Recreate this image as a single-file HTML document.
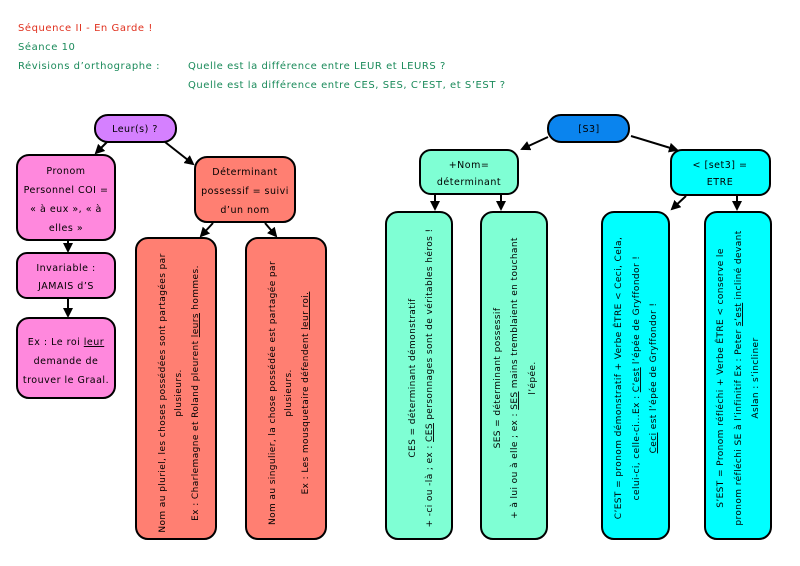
<!DOCTYPE html>
<html><head><meta charset="utf-8"><style>
html,body{margin:0;padding:0;background:#fff;width:800px;height:566px;overflow:hidden}
svg{display:block}
text{font-family:"DejaVu Sans","Liberation Sans",sans-serif}
</style></head><body>
<svg width="800" height="566" viewBox="0 0 800 566" xmlns="http://www.w3.org/2000/svg">
<defs><marker id="a" markerWidth="10" markerHeight="10" refX="8" refY="5" orient="auto" markerUnits="userSpaceOnUse"><path d="M0,0 L10,5 L0,10 z" fill="#000"/></marker></defs>
<g font-size="10" letter-spacing="0.55">
<text x="18" y="31" fill="#e0301e">Séquence II - En Garde !</text>
<text x="18" y="50" fill="#1a8a5a">Séance 10</text>
<text x="18" y="69" fill="#1a8a5a">Révisions d’orthographe :</text>
<text x="188" y="69" fill="#1a8a5a">Quelle est la différence entre LEUR et LEURS ?</text>
<text x="188" y="88" fill="#1a8a5a">Quelle est la différence entre CES, SES, C’EST, et S’EST ?</text>
</g>
<g stroke="#000" stroke-width="2">
<rect x="95" y="115" width="81" height="27" rx="13" fill="#d580ff"/>
<rect x="17" y="155" width="98" height="85" rx="12" fill="#ff88dd"/>
<rect x="17" y="253" width="98" height="45" rx="10" fill="#ff88dd"/>
<rect x="17" y="318" width="98" height="80" rx="12" fill="#ff88dd"/>
<rect x="195" y="157" width="100" height="65" rx="12" fill="#ff7f72"/>
<rect x="136" y="238" width="80" height="301" rx="12" fill="#ff7f72"/>
<rect x="246" y="238" width="80" height="301" rx="12" fill="#ff7f72"/>
<rect x="548" y="115" width="81" height="27" rx="13" fill="#0a84ee"/>
<rect x="420" y="150" width="98" height="44" rx="11" fill="#7fffd4"/>
<rect x="671" y="150" width="99" height="45" rx="11" fill="#00ffff"/>
<rect x="386" y="212" width="66" height="327" rx="12" fill="#7fffd4"/>
<rect x="481" y="212" width="66" height="327" rx="12" fill="#7fffd4"/>
<rect x="602" y="212" width="67" height="327" rx="12" fill="#00ffff"/>
<rect x="705" y="212" width="66" height="327" rx="12" fill="#00ffff"/>
</g>
<g stroke="#000" stroke-width="2" marker-end="url(#a)">
<line x1="107" y1="142" x2="96" y2="153"/>
<line x1="165" y1="142" x2="193" y2="164"/>
<line x1="68" y1="240" x2="68" y2="251"/>
<line x1="68" y1="298" x2="68" y2="316"/>
<line x1="213" y1="223" x2="201" y2="236"/>
<line x1="265" y1="223" x2="276" y2="236"/>
<line x1="548" y1="137" x2="522" y2="149"/>
<line x1="631" y1="136" x2="677" y2="150"/>
<line x1="435" y1="195" x2="435" y2="209"/>
<line x1="501" y1="195" x2="501" y2="209"/>
<line x1="686" y1="196" x2="672" y2="209"/>
<line x1="737" y1="196" x2="737" y2="209"/>
</g>
<g font-size="9.5" text-anchor="middle" fill="#000" letter-spacing="0.5">
<text x="135" y="132">Leur(s) ?</text>
<text x="66" y="174">Pronom</text>
<text x="66" y="193">Personnel COI =</text>
<text x="66" y="212">«  à eux  », «  à</text>
<text x="66" y="231">elles  »</text>
<text x="66" y="271">Invariable :</text>
<text x="66" y="289">JAMAIS d’S</text>
<text x="66" y="345">Ex : Le roi <tspan text-decoration="underline">leur</tspan></text>
<text x="66" y="364">demande de</text>
<text x="66" y="383">trouver le Graal.</text>
<text x="245" y="175">Déterminant</text>
<text x="245" y="194">possessif = suivi</text>
<text x="245" y="213">d’un nom</text>
<text x="589" y="132">[S3]</text>
<text x="469" y="168">+Nom=</text>
<text x="469" y="185">déterminant</text>
<text x="720" y="168">&lt; [set3] =</text>
<text x="720" y="185">ETRE</text>
</g>
<g font-size="9" text-anchor="middle" fill="#000" letter-spacing="0.4">
<g transform="translate(165,393) rotate(-90)">
<text x="0" y="0">Nom au pluriel, les choses possédées sont partagées par</text>
<text x="0" y="16">plusieurs.</text>
<text x="0" y="33">Ex : Charlemagne et Roland pleurent <tspan text-decoration="underline">leurs</tspan> hommes.</text>
</g>
<g transform="translate(275,393) rotate(-90)">
<text x="0" y="0">Nom au singulier, la chose possédée est partagée par</text>
<text x="0" y="16">plusieurs.</text>
<text x="0" y="33">Ex : Les mousquetaire défendent <tspan text-decoration="underline">leur roi.</tspan></text>
</g>
<g transform="translate(415,378) rotate(-90)">
<text x="0" y="0">CES = déterminant démonstratif</text>
<text x="0" y="17">+ -ci ou -là ; ex : <tspan text-decoration="underline">CES</tspan> personnages sont de véritables héros !</text>
</g>
<g transform="translate(500,378) rotate(-90)">
<text x="0" y="0">SES = déterminant possessif</text>
<text x="0" y="17">+ à lui ou à elle ; ex : <tspan text-decoration="underline">SES</tspan> mains tremblaient en touchant</text>
<text x="0" y="35">l’épée.</text>
</g>
<g transform="translate(621,378) rotate(-90)">
<text x="0" y="0">C’EST = pronom démonstratif + Verbe ÊTRE &lt; Ceci, Cela,</text>
<text x="0" y="18">celui-ci, celle-ci...Ex : <tspan text-decoration="underline">C’est</tspan> l’épée de Gryffondor !</text>
<text x="0" y="35"><tspan text-decoration="underline">Ceci</tspan> est l’épée de Gryffondor !</text>
</g>
<g transform="translate(723,378) rotate(-90)">
<text x="0" y="0">S’EST = Pronom réfléchi + Verbe ÊTRE &lt; conserve le</text>
<text x="0" y="18">pronom réfléchi SE à l’infinitif Ex : Peter <tspan text-decoration="underline">s’est</tspan> incliné devant</text>
<text x="0" y="35">Aslan : s’incliner</text>
</g>
</g>
</svg>
</body></html>
